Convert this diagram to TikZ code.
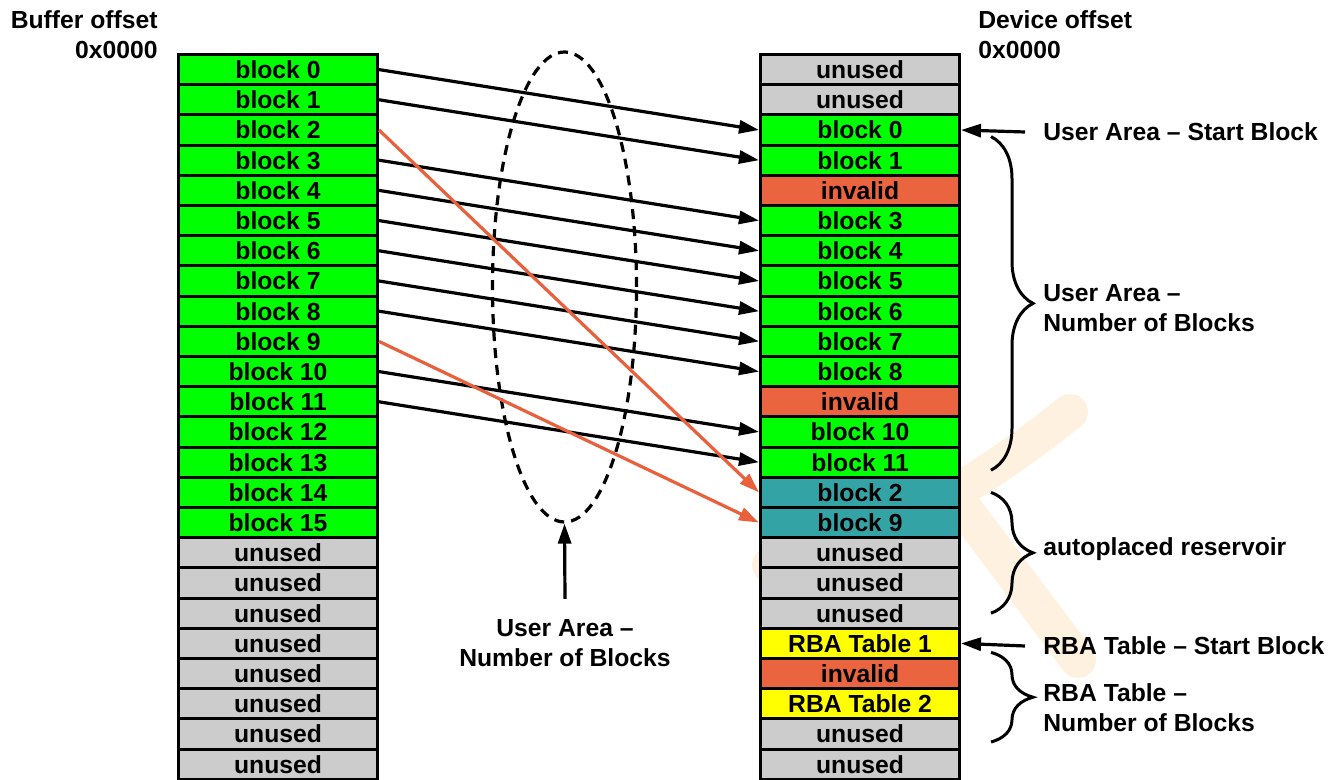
\documentclass[tikz,border=0pt]{standalone}
\usepackage{fontspec}
\setmainfont{Liberation Sans}
\usetikzlibrary{arrows.meta,shapes.geometric,decorations.pathreplacing}
\definecolor{blkgreen}{HTML}{00FF00}
\definecolor{unusedgray}{HTML}{CCCCCC}
\definecolor{badred}{HTML}{EB6440}
\definecolor{spareteal}{HTML}{33A3A5}
\definecolor{rbayellow}{HTML}{FFFF00}
\definecolor{remaporange}{HTML}{E8603C}
\definecolor{markfill}{HTML}{FEF1DF}

\tikzset{
  lbl/.style={font=\bfseries\fontsize{12.35}{15}\selectfont, inner sep=0pt},
  cell/.style={lbl, draw, line width=1.5pt, minimum width=99.5pt, minimum height=15.1pt},
  usedcell/.style={fill=blkgreen},
  freecell/.style={fill=unusedgray},
  badcell/.style={fill=badred},
  sparecell/.style={fill=spareteal},
  rbacell/.style={fill=rbayellow},
  maparrow/.style={line width=1.6pt, -{Triangle[length=10pt,width=6.5pt]}},
  remaparrow/.style={maparrow, remaporange},
  bracket/.style={line width=1.5pt, decorate, decoration={brace, amplitude=21pt}},
  markstroke/.style={markfill, line width=18pt, line cap=round}
}

\begin{document}
\begin{tikzpicture}[x=0.5pt, y=-0.5pt]
\useasboundingbox (0,0) rectangle (1340,780);

% Faint watermark behind the device column
\draw[markstroke] (1070,412) .. controls (1010,460) and (900,540) .. (770,565);
\draw[markstroke] (900,423) -- (1078,660);

% Buffer column
\node[lbl, anchor=east, align=right] (bufhead) at (158,35) {Buffer offset\\0x0000};
\foreach \i in {0,...,15}
  \node[cell, usedcell] (b\i) at (278, {69.6+30.2*\i}) {block \i};
\foreach \i in {16,...,23}
  \node[cell, freecell] (b\i) at (278, {69.6+30.2*\i}) {unused};

% Device column
\node[lbl, anchor=west, align=left] (devhead) at (978,35) {Device offset\\0x0000};
\foreach \i/\txt/\sty in {0/unused/freecell, 1/unused/freecell,
    2/block 0/usedcell, 3/block 1/usedcell, 4/invalid/badcell,
    5/block 3/usedcell, 6/block 4/usedcell, 7/block 5/usedcell,
    8/block 6/usedcell, 9/block 7/usedcell, 10/block 8/usedcell,
    11/invalid/badcell, 12/block 10/usedcell, 13/block 11/usedcell,
    14/block 2/sparecell, 15/block 9/sparecell,
    16/unused/freecell, 17/unused/freecell, 18/unused/freecell,
    19/RBA Table 1/rbacell, 20/invalid/badcell, 21/RBA Table 2/rbacell,
    22/unused/freecell, 23/unused/freecell}
  \node[cell, \sty] (d\i) at (860, {69.6+30.2*\i}) {\txt};

% User area (dashed) and its label
\node[draw, ellipse, line width=1.6pt, dash pattern=on 5pt off 3.5pt,
  minimum width=72pt, minimum height=235pt, inner sep=0pt] (zone) at (564.5,287) {};
\node[lbl, align=center] (ualabel) at (565,643) {User Area –\\Number of Blocks};
\draw[maparrow] ([yshift=10pt]ualabel.north) -- (zone.south);

% Direct mapping
\foreach \s/\t in {0/2, 1/3, 3/5, 4/6, 5/7, 6/8, 7/9, 8/10, 10/12, 11/13}
  \draw[maparrow] (b\s.east) -- (d\t.west);

% Remapped into the reservoir
\foreach \s/\t in {2/14, 9/15}
  \draw[remaparrow] (b\s.east) -- (d\t.west);

% Right-hand annotations
\node[lbl, anchor=west] (usstart) at (1043,132) {User Area – Start Block};
\draw[maparrow] ([xshift=-9pt]usstart.west) -- (d2.east);
\draw[bracket] ([xshift=15pt,yshift=-3.3pt]d2.east) -- ([xshift=15pt,yshift=-4pt]d13.east);
\node[lbl, anchor=west, align=left] (uscount) at (1043,308) {User Area –\\Number of Blocks};

\draw[bracket] ([xshift=15pt]d14.east) -- ([xshift=15pt]d18.east);
\node[lbl, anchor=west] (reserve) at (1043,549) {autoplaced reservoir};

\node[lbl, anchor=west] (rbastart) at (1043,646) {RBA Table – Start Block};
\draw[maparrow] ([xshift=-9pt]rbastart.west) -- (d19.east);
\draw[bracket] ([xshift=15pt,yshift=-4.5pt]d19.east) -- ([xshift=15pt,yshift=-4pt]d22.east);
\node[lbl, anchor=west, align=left] (rbacount) at (1043,708) {RBA Table –\\Number of Blocks};

\end{tikzpicture}
\end{document}
